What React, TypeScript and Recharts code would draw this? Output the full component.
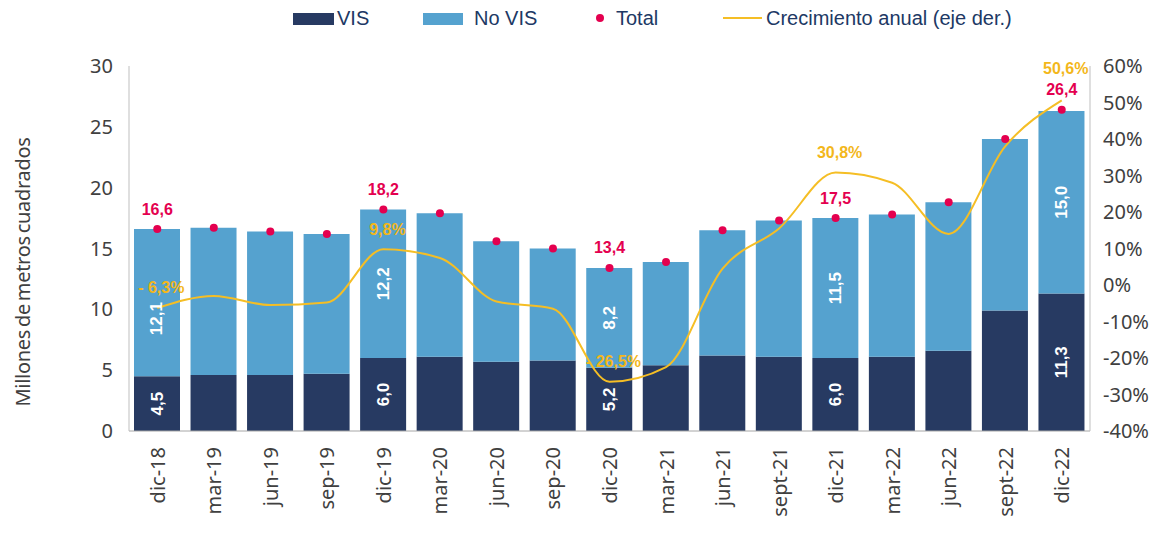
import { ComposedChart, Bar, Line, XAxis, YAxis, Legend, LabelList } from 'recharts'

const categories = [
  'dic-18', 'mar-19', 'jun-19', 'sep-19', 'dic-19', 'mar-20', 'jun-20', 'sep-20', 'dic-20',
  'mar-21', 'jun-21', 'sept-21', 'dic-21', 'mar-22', 'jun-22', 'sept-22', 'dic-22',
]
const vis = [4.5, 4.6, 4.6, 4.7, 6.0, 6.1, 5.7, 5.8, 5.2, 5.4, 6.2, 6.1, 6.0, 6.1, 6.6, 9.9, 11.3]
const noVis = [12.1, 12.1, 11.8, 11.5, 12.2, 11.8, 9.9, 9.2, 8.2, 8.5, 10.3, 11.2, 11.5, 11.7, 12.2, 14.1, 15.0]
const total = [16.6, 16.7, 16.4, 16.2, 18.2, 17.9, 15.6, 15.0, 13.4, 13.9, 16.5, 17.3, 17.5, 17.8, 18.8, 24.0, 26.4]
const growth = [-6.3, -3.0, -5.5, -4.8, 9.8, 7.4, -4.5, -6.5, -26.5, -22.5, 4.5, 15.5, 30.8, 28.0, 14.0, 38.0, 50.6]

const leftTicks = [0, 5, 10, 15, 20, 25, 30]
const rightTicks = [-40, -30, -20, -10, 0, 10, 20, 30, 40, 50, 60]

const data = categories.map((name, i) => ({
  name,
  vis: vis[i],
  noVis: noVis[i],
  total: total[i],
  growth: growth[i],
}))

const C_VIS = '#273a62'
const C_NOVIS = '#55a2cf'
const C_TOTAL = '#e4004f'
const C_LINE = '#f5be25'
const C_GOLD = '#f3b71b'
const C_TEXT = '#203864'
const C_AXIS = '#404040'

const TICK_FONT = "'Noto Sans', 'Open Sans', sans-serif"
const LABEL_FONT = "'Liberation Sans', Arial, sans-serif"

const isDic = (i: number) => categories[i]?.startsWith('dic')
const fmt = (v: number) => v.toFixed(1).replace('.', ',')
const fmtPct = (v: number) => (v < 0 ? `- ${fmt(Math.abs(v))}%` : `${fmt(v)}%`)

const BarLabel = (props: any) => {
  const { x, y, width, height, value, index, shift = 0 } = props
  if (!isDic(index)) return null
  const cx = x + width / 2
  const cy = y + height / 2 + (typeof shift === 'function' ? shift(index) : shift)
  return (
    <text
      x={cx}
      y={cy}
      transform={`rotate(-90 ${cx} ${cy})`}
      textAnchor="middle"
      dominantBaseline="central"
      fill="#fff"
      fontFamily={LABEL_FONT}
      fontWeight="bold"
      fontSize={17}
    >
      {fmt(value)}
    </text>
  )
}

const TotalLabel = (props: any) => {
  const { x, y, value, index } = props
  if (!isDic(index)) return null
  return (
    <text x={x} y={y - 20} textAnchor="middle" dominantBaseline="central" fill={C_TOTAL}
      fontFamily={LABEL_FONT} fontWeight="bold" fontSize={16}>
      {fmt(value)}
    </text>
  )
}

const GrowthLabel = (props: any) => {
  const { x, y, value, index } = props
  if (!isDic(index)) return null
  const last = index === categories.length - 1
  return (
    <text x={x + 4} y={y - (last ? 32 : 20)} textAnchor="middle" dominantBaseline="central" fill={C_GOLD}
      fontFamily={LABEL_FONT} fontWeight="bold" fontSize={16}>
      {fmtPct(value)}
    </text>
  )
}

const XTick = (props: any) => {
  const { x, y, payload } = props
  return (
    <text x={x} y={y} transform={`rotate(-90 ${x} ${y})`} textAnchor="end" dominantBaseline="central"
      fill={C_AXIS} fontFamily={TICK_FONT} fontSize={20}>
      {payload.value}
    </text>
  )
}

const YTitle = () => (
  <text x={22} y={272} transform="rotate(-90 22 272)" textAnchor="middle" dominantBaseline="central"
    fill={C_AXIS} fontFamily={TICK_FONT} fontSize={20} letterSpacing={-0.3} wordSpacing={-2}>
    Millones de metros cuadrados
  </text>
)

const LegendBox = () => {
  const txt = { position: 'absolute' as const, top: 0, lineHeight: '30px', whiteSpace: 'nowrap' as const }
  return (
    <div style={{ position: 'relative', width: 1154, height: 30, fontFamily: LABEL_FONT, fontSize: 20, color: C_TEXT }}>
      <div style={{ position: 'absolute', left: 293, top: 10, width: 41, height: 12, background: C_VIS }} />
      <span style={{ ...txt, left: 337 }}>VIS</span>
      <div style={{ position: 'absolute', left: 423, top: 10, width: 40, height: 12, background: C_NOVIS }} />
      <span style={{ ...txt, left: 474 }}>No VIS</span>
      <div style={{ position: 'absolute', left: 596, top: 11, width: 8, height: 8, borderRadius: 4, background: C_TOTAL }} />
      <span style={{ ...txt, left: 616 }}>Total</span>
      <div style={{ position: 'absolute', left: 723, top: 14, width: 39, height: 2, background: C_LINE }} />
      <span style={{ ...txt, left: 766 }}>Crecimiento anual (eje der.)</span>
    </div>
  )
}

export default function App() {
  return (
    <div style={{ position: 'absolute', left: 0, top: 0, width: 1154, height: 538, background: '#fff' }}>
      <ComposedChart width={1154} height={538} data={data} margin={{ top: 36, right: 0, bottom: 0, left: 0 }}>
        <Legend verticalAlign="top" content={<LegendBox />} wrapperStyle={{ top: 3, left: 0, width: 1154 }} />
        <XAxis dataKey="name" height={107} tickLine={false} tickSize={6} tickMargin={10}
          axisLine={{ stroke: '#a6a6a6' }} tick={<XTick />} interval={0} />
        <YAxis yAxisId="left" domain={[0, 30]} ticks={leftTicks} width={129} tickLine={false} tickSize={6}
          tickMargin={10} axisLine={{ stroke: '#bfbfbf' }} interval={0}
          tick={{ fontSize: 20, fill: C_AXIS, fontFamily: TICK_FONT }} label={<YTitle />} />
        <YAxis yAxisId="right" orientation="right" domain={[-40, 60]} ticks={rightTicks} width={64}
          tickLine={false} tickSize={6} tickMargin={7} axisLine={{ stroke: '#bfbfbf' }} interval={0}
          tickFormatter={(v: number) => `${v}%`}
          tick={{ fontSize: 20, fill: C_AXIS, fontFamily: TICK_FONT, textAnchor: 'start' }} />
        <Bar yAxisId="left" dataKey="vis" stackId="s" fill={C_VIS} barSize={46} isAnimationActive={false}>
          <LabelList dataKey="vis" content={<BarLabel />} />
        </Bar>
        <Bar yAxisId="left" dataKey="noVis" stackId="s" fill={C_NOVIS} barSize={46} isAnimationActive={false}>
          <LabelList dataKey="noVis" content={<BarLabel shift={(i: number) => (i === 0 ? 16 : 0)} />} />
        </Bar>
        <Line yAxisId="right" dataKey="growth" type="monotone" stroke={C_LINE} strokeWidth={2}
          dot={false} activeDot={false} isAnimationActive={false}>
          <LabelList dataKey="growth" content={<GrowthLabel />} />
        </Line>
        <Line yAxisId="left" dataKey="total" stroke="none" dot={{ r: 4, fill: C_TOTAL, stroke: 'none' }}
          activeDot={false} isAnimationActive={false}>
          <LabelList dataKey="total" content={<TotalLabel />} />
        </Line>
      </ComposedChart>
    </div>
  )
}
